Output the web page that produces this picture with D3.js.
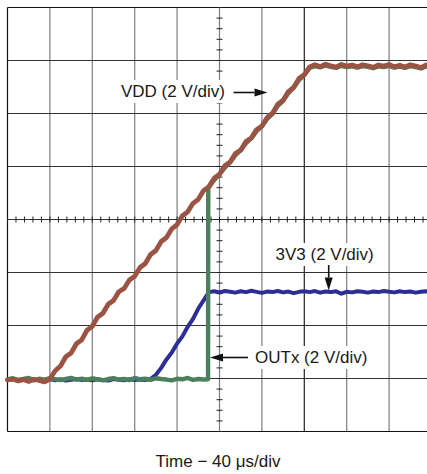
<!DOCTYPE html>
<html>
<head>
<meta charset="utf-8">
<script src="https://cdn.jsdelivr.net/npm/d3@7"></script>
<style>
  html, body { margin: 0; padding: 0; background: #fff; }
  svg { display: block; }
  text { font-family: "Liberation Sans", Arial, Helvetica, sans-serif; fill: #1a1a1a; }
</style>
</head>
<body>
<svg id="chart" width="427" height="474"></svg>
<script>
// Sample times (µs) shared by the VDD and 3V3 captures
const sampleTimeUs = [
  0, 5, 10, 15, 20, 25, 30, 35, 40, 45,
  50, 55, 60, 65, 70, 75, 80, 85, 90, 95,
  100, 105, 110, 115, 120, 125, 130, 135, 140, 145,
  150, 155, 160, 165, 170, 175, 180, 185, 190, 195,
  200, 205, 210, 215, 220, 225, 230, 235, 240, 245,
  250, 255, 260, 265, 270, 275, 280, 285, 290, 295,
  300, 305, 310, 315, 320, 325, 330, 335, 340, 345,
  350, 355, 360, 365, 370, 375, 380, 385, 390, 395,
  400
];

// VDD rail (V)
const vddVolts = [
  -0.05, -0.02, -0.09, -0.04, -0.11, -0.03, -0.07, -0.13, -0.02, 0.29,
  0.47, 0.82, 0.96, 1.31, 1.46, 1.82, 1.97, 2.32, 2.46, 2.80,
  2.94, 3.27, 3.40, 3.72, 3.86, 4.19, 4.34, 4.68, 4.83, 5.17,
  5.32, 5.65, 5.81, 6.14, 6.29, 6.61, 6.76, 7.09, 7.24, 7.56,
  7.71, 8.03, 8.17, 8.49, 8.62, 8.94, 9.08, 9.39, 9.53, 9.85,
  10.01, 10.35, 10.50, 10.83, 10.99, 11.32, 11.47, 11.76, 11.84, 11.77,
  11.86, 11.80, 11.75, 11.85, 11.79, 11.83, 11.76, 11.84, 11.80, 11.74,
  11.83, 11.79, 11.85, 11.76, 11.82, 11.75, 11.84, 11.79, 11.73, 11.83,
  11.78
];

// 3V3 rail (V)
const v3v3Volts = [
  -0.06, -0.03, -0.08, -0.05, -0.02, -0.07, -0.04, -0.06, -0.02, -0.07,
  -0.03, -0.08, -0.05, -0.02, -0.06, -0.04, -0.07, -0.03, -0.06, -0.08,
  -0.02, -0.05, -0.07, -0.03, -0.06, -0.04, -0.06, -0.02, 0.14, 0.40,
  0.72, 0.98, 1.32, 1.59, 1.95, 2.25, 2.64, 2.95, 3.26, 3.29,
  3.25, 3.30, 3.27, 3.24, 3.29, 3.26, 3.31, 3.27, 3.23, 3.28,
  3.26, 3.30, 3.25, 3.28, 3.22, 3.27, 3.29, 3.26, 3.30, 3.24,
  3.28, 3.26, 3.29, 3.20, 3.27, 3.25, 3.29, 3.27, 3.24, 3.28,
  3.26, 3.30, 3.27, 3.25, 3.29, 3.26, 3.28, 3.24, 3.27, 3.29,
  3.26
];

// OUTx switch output: its own time base so the turn-on edge stays sharp
const outxTimeUs = [
  0, 5, 10, 15, 20, 25, 30, 35, 40, 45,
  50, 55, 60, 65, 70, 75, 80, 85, 90, 95,
  100, 105, 110, 115, 120, 125, 130, 135, 140, 145,
  150, 155, 160, 165, 170, 175, 180, 185,
  189.2, 189.4,
  190, 195, 200, 205, 210, 215, 220, 225, 230, 235,
  240, 245, 250, 255, 260, 265, 270, 275, 280, 285,
  290, 295, 300, 305, 310, 315, 320, 325, 330, 335,
  340, 345, 350, 355, 360, 365, 370, 375, 380, 385,
  390, 395, 400
];
const outxVolts = [
  -0.03, 0.01, -0.05, -0.02, 0.02, -0.06, -0.01, -0.04, 0.01, -0.03,
  -0.06, -0.02, 0.02, -0.04, -0.01, -0.05, 0.01, -0.03, -0.07, -0.02,
  0.01, -0.04, -0.02, -0.06, 0.02, -0.03, -0.01, -0.05, 0.01, -0.02,
  -0.04, -0.07, -0.01, -0.03, 0.02, -0.05, -0.02, -0.04,
  -0.03, 7.20,
  7.22, 7.49, 7.70, 7.96, 8.15, 8.43, 8.61, 8.88, 9.06, 9.33,
  9.52, 9.79, 9.99, 10.29, 10.48, 10.77, 10.97, 11.26, 11.45, 11.72,
  11.79, 11.74, 11.81, 11.76, 11.72, 11.80, 11.75, 11.78, 11.73, 11.79,
  11.76, 11.71, 11.78, 11.75, 11.80, 11.73, 11.77, 11.72, 11.79, 11.75,
  11.70, 11.78, 11.74
];

// Graticule: 40 µs per horizontal division, 2 V per vertical division
const timeDivisionsUs = [0, 40, 80, 120, 160, 200, 240, 280, 320, 360, 400];
const voltDivisions = [-2, 0, 2, 4, 6, 8, 10, 12, 14];
const centreTimeUs = 200;
const centreVolts = 6;
const minorPerDivision = 5;

const xTitle = "Time \u2212 40 \u03bcs/div";
const vddLabel = "VDD (2 V/div)";
const v3v3Label = "3V3 (2 V/div)";
const outxLabel = "OUTx (2 V/div)";

const colours = { vdd: "#9b5444", v3v3: "#2c2e96", outx: "#4b7f5d" };

const svg = d3.select("#chart");
const plot = { left: 7.5, top: 7.5, width: 424, height: 424 };

const x = d3.scaleLinear().domain([0, 400]).range([plot.left, plot.left + plot.width]);
const y = d3.scaleLinear().domain([-2, 14]).range([plot.top + plot.height, plot.top]);

// Graticule lines
const grid = svg.append("g");
grid.selectAll("line.v").data(timeDivisionsUs).join("line")
  .attr("x1", d => x(d)).attr("x2", d => x(d))
  .attr("y1", y(14)).attr("y2", y(-2))
  .attr("stroke", d => (d === 0 ? "#111" : d === 280 ? "#222" : "#7e7e7e"))
  .attr("stroke-width", 1.2);
grid.selectAll("line.h").data(voltDivisions).join("line")
  .attr("x1", x(0)).attr("x2", x(400))
  .attr("y1", d => y(d)).attr("y2", d => y(d))
  .attr("stroke", d => (d === -2 || d === 14 ? "#111" : "#333"))
  .attr("stroke-width", 1.1);

// Minor ticks along the centre lines
const timeMinor = d3.range(0, 400 + 1e-9, 40 / minorPerDivision);
const voltMinor = d3.range(-2, 14 + 1e-9, 2 / minorPerDivision);
grid.selectAll("line.tx").data(timeMinor).join("line")
  .attr("x1", d => x(d)).attr("x2", d => x(d))
  .attr("y1", y(centreVolts) - 3).attr("y2", y(centreVolts) + 3)
  .attr("stroke", "#222").attr("stroke-width", 1);
grid.selectAll("line.ty").data(voltMinor).join("line")
  .attr("x1", x(centreTimeUs) - 3).attr("x2", x(centreTimeUs) + 3)
  .attr("y1", d => y(d)).attr("y2", d => y(d))
  .attr("stroke", "#222").attr("stroke-width", 1);

// Traces
const line = d3.line().x(d => x(d[0])).y(d => y(d[1]));
const traces = [
  { pts: d3.zip(sampleTimeUs, v3v3Volts), colour: colours.v3v3, w: 4 },
  { pts: d3.zip(outxTimeUs, outxVolts), colour: colours.outx, w: 4.4 },
  { pts: d3.zip(sampleTimeUs, vddVolts), colour: colours.vdd, w: 4.8 }
];
svg.append("g").selectAll("path").data(traces).join("path")
  .attr("d", d => line(d.pts))
  .attr("fill", "none")
  .attr("stroke", d => d.colour)
  .attr("stroke-width", d => d.w)
  .attr("stroke-linejoin", "round")
  .attr("stroke-linecap", "round");

// Labels with white backing and arrows
const notes = svg.append("g");
function label(text, px, py) {
  const g = notes.append("g");
  const t = g.append("text").attr("x", px).attr("y", py).attr("font-size", 17).text(text);
  const b = t.node().getBBox();
  g.insert("rect", "text")
    .attr("x", b.x - 3).attr("y", b.y - 2)
    .attr("width", b.width + 6).attr("height", b.height + 4)
    .attr("fill", "#fff");
}
function arrow(x1, y1, x2, y2) {
  const ang = Math.atan2(y2 - y1, x2 - x1);
  const len = 13, half = 4;
  const bx = x2 - len * Math.cos(ang), by = y2 - len * Math.sin(ang);
  notes.append("line")
    .attr("x1", x1).attr("y1", y1).attr("x2", bx).attr("y2", by)
    .attr("stroke", "#111").attr("stroke-width", 1.6);
  notes.append("path")
    .attr("d", `M${x2},${y2}L${bx - half * Math.sin(ang)},${by + half * Math.cos(ang)}L${bx + half * Math.sin(ang)},${by - half * Math.cos(ang)}Z`)
    .attr("fill", "#111");
}

label(vddLabel, 121, 97);
arrow(233.5, 92.5, 267.5, 92.5);

label(v3v3Label, 275.5, 260);
arrow(328.7, 265, 328.7, 290.5);

label(outxLabel, 255, 363);
arrow(248, 357.5, 210, 357.5);

svg.append("text")
  .attr("x", 218).attr("y", 467)
  .attr("text-anchor", "middle")
  .attr("font-size", 17)
  .text(xTitle);
</script>
</body>
</html>
